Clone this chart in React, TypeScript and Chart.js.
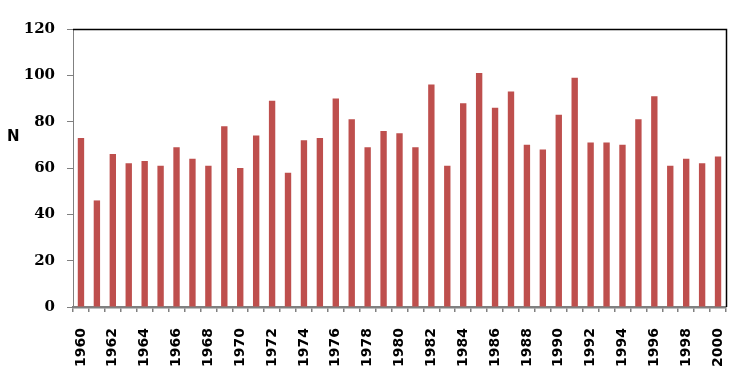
import React, { useEffect, useRef } from 'react';
import { Chart, registerables } from 'chart.js';

Chart.register(...registerables);

const years = [
  '1960', '1961', '1962', '1963', '1964', '1965', '1966', '1967', '1968', '1969',
  '1970', '1971', '1972', '1973', '1974', '1975', '1976', '1977', '1978', '1979',
  '1980', '1981', '1982', '1983', '1984', '1985', '1986', '1987', '1988', '1989',
  '1990', '1991', '1992', '1993', '1994', '1995', '1996', '1997', '1998', '1999',
  '2000',
];

const counts = [
  73, 46, 66, 62, 63, 61, 69, 64, 61, 78,
  60, 74, 89, 58, 72, 73, 90, 81, 69, 76,
  75, 69, 96, 61, 88, 101, 86, 93, 70, 68,
  83, 99, 71, 71, 70, 81, 91, 61, 64, 62,
  65,
];

const yMin = 0;
const yMax = 120;
const yStep = 20;
const yAxisLabel = 'N';

const framePlugin = {
  id: 'framePlugin',
  afterDatasetsDraw(chart: any) {
    const { ctx, chartArea } = chart;
    const { left, right, top, bottom } = chartArea;
    ctx.save();
    ctx.strokeStyle = '#000000';
    ctx.lineWidth = 1.5;
    ctx.beginPath();
    ctx.moveTo(left, top + 0.5);
    ctx.lineTo(right + 0.5, top + 0.5);
    ctx.lineTo(right + 0.5, bottom);
    ctx.stroke();
    ctx.fillStyle = '#000000';
    ctx.font = 'bold 15px "DejaVu Sans"';
    ctx.textAlign = 'left';
    ctx.textBaseline = 'middle';
    ctx.fillText(yAxisLabel, 7, top + (bottom - top) * 0.39);
    ctx.restore();
  },
};

export default function App() {
  const canvasRef = useRef<HTMLCanvasElement | null>(null);

  useEffect(() => {
    if (!canvasRef.current) return;
    const chart = new Chart(canvasRef.current, {
      type: 'bar',
      data: {
        labels: years,
        datasets: [
          {
            data: counts,
            backgroundColor: '#BE4F4D',
            borderWidth: 0,
            barPercentage: 0.4,
            categoryPercentage: 1,
          },
        ],
      },
      options: {
        responsive: true,
        maintainAspectRatio: false,
        animation: false,
        layout: { padding: { left: 0, right: 26, top: 29, bottom: 0 } },
        plugins: {
          legend: { display: false },
          tooltip: { enabled: false },
          title: { display: false },
        },
        scales: {
          x: {
            offset: true,
            grid: {
              display: true,
              drawOnChartArea: false,
              drawTicks: true,
              tickLength: 5,
              color: '#808080',
              lineWidth: 1.5,
              offset: true,
            },
            border: { display: true, color: '#808080', width: 2.5 },
            ticks: {
              autoSkip: false,
              maxRotation: 90,
              minRotation: 90,
              padding: 16,
              color: '#000000',
              font: { family: '"DejaVu Sans"', size: 14, weight: 'bold' },
              callback: (_v: any, i: number) => (i % 2 === 0 ? years[i] : ''),
            },
            afterFit: (scale: any) => {
              scale.height = 70;
              scale.paddingLeft = 0;
              scale.paddingRight = 0;
            },
          },
          y: {
            min: yMin,
            max: yMax,
            grid: {
              display: true,
              drawOnChartArea: false,
              drawTicks: true,
              tickLength: 6,
              color: '#808080',
              lineWidth: 1,
            },
            border: { display: true, color: '#808080', width: 1 },
            ticks: {
              stepSize: yStep,
              padding: 12,
              color: '#000000',
              font: { family: '"DejaVu Serif"', size: 15, weight: 'bold' },
            },
            afterFit: (scale: any) => {
              scale.width = 73;
            },
          },
        },
      },
      plugins: [framePlugin],
    });
    return () => chart.destroy();
  }, []);

  return (
    <div style={{ position: 'fixed', left: 0, top: 0, width: 752, height: 377, background: '#ffffff' }}>
      <canvas ref={canvasRef} />
    </div>
  );
}
